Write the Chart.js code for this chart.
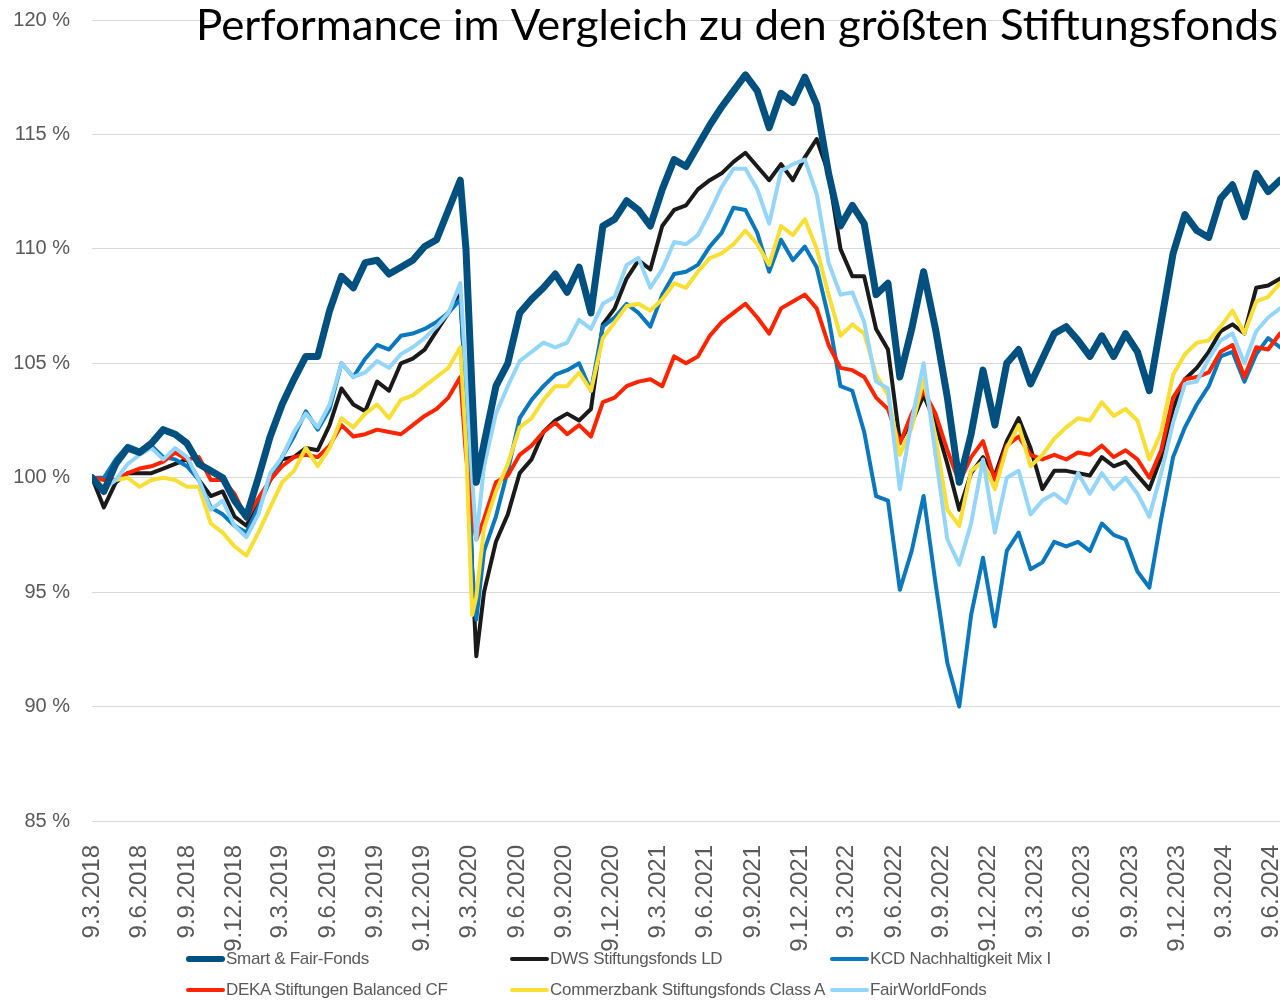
<!DOCTYPE html>
<html>
<head>
<meta charset="utf-8">
<script src="https://cdn.jsdelivr.net/npm/chart.js@4.4.1/dist/chart.umd.min.js"></script>
<style>
  body { margin: 0; background: #fff; }
  #wrap { position: relative; width: 1280px; height: 1000px; }
  #legend { position: absolute; left: 0; top: 0; width: 1280px; height: 1000px; pointer-events: none;
            font-family: "Liberation Sans", Arial, sans-serif; font-size: 17px; color: #595959; letter-spacing: -0.3px; }
  .item { position: absolute; display: flex; align-items: center; white-space: nowrap; }
  .swatch { width: 39px; margin-right: 1px; border-radius: 3px; }
</style>
</head>
<body>
<div id="wrap">
  <canvas id="perfChart" width="1280" height="1000"></canvas>
  <div id="legend"></div>
</div>
<script>
const chartTitle = 'Performance im Vergleich zu den größten Stiftungsfonds';

const tickLabels = ['9.3.2018', '9.6.2018', '9.9.2018', '9.12.2018', '9.3.2019', '9.6.2019', '9.9.2019', '9.12.2019',
  '9.3.2020', '9.6.2020', '9.9.2020', '9.12.2020', '9.3.2021', '9.6.2021', '9.9.2021', '9.12.2021',
  '9.3.2022', '9.6.2022', '9.9.2022', '9.12.2022', '9.3.2023', '9.6.2023', '9.9.2023', '9.12.2023',
  '9.3.2024', '9.6.2024'];

// sample dates, in days after 9.3.2018
const days = [0, 23, 46, 69, 92, 115, 138, 161, 184, 207, 230, 253, 276, 299, 322, 345, 368, 391, 414, 437,
  460, 483, 506, 529, 552, 575, 598, 621, 644, 667, 690, 713, 724, 736, 744, 759, 782, 805, 828, 851,
  874, 897, 920, 943, 966, 989, 1012, 1035, 1058, 1081, 1104, 1127, 1150, 1173, 1196, 1219, 1242, 1265,
  1288, 1311, 1334, 1357, 1380, 1403, 1426, 1449, 1472, 1495, 1518, 1541, 1564, 1587, 1610, 1633, 1656,
  1679, 1702, 1725, 1748, 1771, 1794, 1817, 1840, 1863, 1886, 1909, 1932, 1955, 1978, 2001, 2024, 2047,
  2070, 2093, 2116, 2139, 2162, 2185, 2208, 2231, 2254, 2277, 2300];

const smartFair = [100.0, 99.4, 100.6, 101.3, 101.1, 101.5, 102.1, 101.9, 101.5, 100.6, 100.3, 100.0, 99.0, 98.3, 100.0, 101.8, 103.2, 104.3,
  105.3, 105.3, 107.3, 108.8, 108.3, 109.4, 109.5, 108.9, 109.2, 109.5, 110.1, 110.4, 111.7, 113.0,
  110.0, 103.7, 99.8,
  101.5, 104.0, 105.0, 107.2, 107.8, 108.3, 108.9, 108.1, 109.2, 107.2, 111.0, 111.3, 112.1, 111.7, 111.0, 112.6, 113.9, 113.6, 114.5,
  115.4, 116.2, 116.9, 117.6, 116.9, 115.3, 116.8, 116.4, 117.5, 116.3, 113.3, 111.0, 111.9, 111.1, 108.0, 108.5,
  104.4, 106.5, 109.0, 106.5, 103.5, 99.8, 101.9, 104.7, 102.3, 105.0, 105.6, 104.1, 105.2, 106.3, 106.6, 106.0, 105.3,
  106.2, 105.3, 106.3, 105.5, 103.8, 106.8, 109.8, 111.5, 110.8, 110.5, 112.2, 112.8, 111.4, 113.3, 112.5, 113.0];

const dws = [100.0, 98.7, 99.8, 100.2, 100.2, 100.2, 100.4, 100.6, 100.8, 99.9, 99.2, 99.4, 98.3, 97.9, 98.9, 99.9, 100.8, 100.9,
  101.3, 101.2, 102.3, 103.9, 103.2, 102.9, 104.2, 103.8, 105.0, 105.2, 105.6, 106.4, 107.2, 108.0,
  103.5, 96.0, 92.2,
  95.0, 97.2, 98.4, 100.2, 100.8, 102.0, 102.5, 102.8, 102.5, 103.0, 106.7, 107.4, 108.7, 109.5, 109.1, 111.0, 111.7, 111.9, 112.6,
  113.0, 113.3, 113.8, 114.2, 113.6, 113.0, 113.7, 113.0, 114.0, 114.8, 113.3, 110.0, 108.8, 108.8, 106.5, 105.6,
  101.6, 102.4, 103.6, 102.4, 100.6, 98.6, 100.2, 100.9, 100.1, 101.6, 102.6, 101.3, 99.5, 100.3, 100.3, 100.2, 100.1,
  100.9, 100.5, 100.7, 100.1, 99.5, 100.9, 103.0, 104.3, 104.8, 105.5, 106.4, 106.7, 106.3, 108.3, 108.4, 108.7];

const kcd = [100.0, 100.0, 100.8, 101.4, 101.2, 101.4, 100.9, 100.8, 100.5, 99.9, 98.7, 98.4, 97.9, 97.6, 98.7, 99.9, 100.9, 101.8,
  102.9, 102.1, 103.0, 105.0, 104.4, 105.2, 105.8, 105.6, 106.2, 106.3, 106.5, 106.8, 107.2, 107.8,
  104.0, 96.0, 93.8,
  96.8, 98.3, 100.3, 102.6, 103.4, 104.0, 104.5, 104.7, 105.0, 103.8, 106.6, 107.0, 107.6, 107.2, 106.6, 108.0, 108.9, 109.0, 109.3,
  110.1, 110.7, 111.8, 111.7, 110.7, 109.0, 110.4, 109.5, 110.1, 109.2, 107.0, 104.0, 103.8, 102.0, 99.2, 99.0,
  95.1, 96.8, 99.2, 95.4, 91.9, 90.0, 94.0, 96.5, 93.5, 96.8, 97.6, 96.0, 96.3, 97.2, 97.0, 97.2, 96.8,
  98.0, 97.5, 97.3, 95.9, 95.2, 98.2, 100.9, 102.2, 103.2, 104.0, 105.3, 105.5, 104.2, 105.4, 106.1, 105.7];

const deka = [100.0, 99.9, 99.9, 100.2, 100.4, 100.5, 100.7, 101.1, 100.8, 100.9, 99.9, 99.9, 99.3, 98.2, 99.1, 99.9, 100.5, 100.9,
  101.0, 100.9, 101.4, 102.3, 101.8, 101.9, 102.1, 102.0, 101.9, 102.3, 102.7, 103.0, 103.5, 104.4,
  101.0, 98.5, 97.3,
  98.2, 99.8, 100.1, 101.0, 101.4, 102.0, 102.4, 101.9, 102.3, 101.8, 103.3, 103.5, 104.0, 104.2, 104.3, 104.0, 105.3, 105.0, 105.3,
  106.2, 106.8, 107.2, 107.6, 107.0, 106.3, 107.4, 107.7, 108.0, 107.4, 105.8, 104.8, 104.7, 104.4, 103.5, 103.0,
  101.5, 102.8, 103.8, 102.8, 101.2, 99.8, 100.9, 101.6, 99.9, 101.4, 101.8, 101.0, 100.8, 101.0, 100.8, 101.1, 101.0,
  101.4, 100.9, 101.2, 100.8, 100.0, 101.2, 103.5, 104.3, 104.4, 104.6, 105.5, 105.8, 104.4, 105.7, 105.6, 106.3];

const commerzbank = [100.0, 99.6, 99.9, 100.0, 99.6, 99.9, 100.0, 99.9, 99.6, 99.6, 98.0, 97.6, 97.0, 96.6, 97.6, 98.7, 99.8, 100.3,
  101.3, 100.5, 101.3, 102.6, 102.2, 102.8, 103.2, 102.6, 103.4, 103.6, 104.0, 104.4, 104.8, 105.7,
  101.5, 94.0, 94.8,
  97.8, 99.4, 100.6, 102.2, 102.6, 103.4, 104.0, 104.0, 104.6, 103.8, 106.1, 106.8, 107.5, 107.6, 107.3, 107.8, 108.5, 108.3, 109.0,
  109.6, 109.8, 110.2, 110.8, 110.2, 109.3, 111.0, 110.6, 111.3, 110.0, 108.0, 106.2, 106.7, 106.3, 104.5, 103.6,
  101.0, 102.2, 104.3, 101.8, 98.6, 97.9, 100.3, 100.7, 99.5, 101.3, 102.3, 100.5, 101.0, 101.7, 102.2, 102.6, 102.5,
  103.3, 102.7, 103.0, 102.5, 100.8, 102.0, 104.5, 105.4, 105.9, 106.0, 106.6, 107.3, 106.3, 107.7, 107.9, 108.5];

const fairWorld = [100.0, 99.5, 99.9, 100.6, 101.0, 101.3, 100.8, 101.3, 100.9, 99.9, 98.6, 99.0, 97.9, 97.4, 98.4, 100.2, 100.9, 102.0,
  102.8, 102.2, 103.2, 105.0, 104.4, 104.6, 105.1, 104.8, 105.4, 105.7, 106.1, 106.6, 107.2, 108.5,
  104.5, 100.0, 97.3,
  100.5, 102.8, 104.0, 105.1, 105.5, 105.9, 105.7, 105.9, 106.9, 106.5, 107.6, 107.9, 109.3, 109.6, 108.3, 109.1, 110.3, 110.2, 110.6,
  111.6, 112.7, 113.5, 113.5, 112.6, 111.1, 113.4, 113.7, 113.9, 112.4, 109.4, 108.0, 108.1, 106.8, 104.2, 103.9,
  99.5, 102.5, 105.0, 101.0, 97.3, 96.2, 98.0, 100.8, 97.6, 100.0, 100.3, 98.4, 99.0, 99.3, 98.9, 100.2, 99.3,
  100.2, 99.5, 100.0, 99.3, 98.3, 100.2, 102.4, 104.1, 104.2, 105.2, 106.0, 106.3, 105.0, 106.4, 107.0, 107.4];

const seriesNames = ['Smart & Fair-Fonds', 'DWS Stiftungsfonds LD', 'KCD Nachhaltigkeit Mix I',
  'DEKA Stiftungen Balanced CF', 'Commerzbank Stiftungsfonds Class A', 'FairWorldFonds'];
const seriesValues = [smartFair, dws, kcd, deka, commerzbank, fairWorld];
const seriesColors = ['#01507f', '#1a1a1a', '#0a78be', '#ff2400', '#f9de33', '#94d6fa'];
const seriesWidths = [7, 4, 4, 4, 4, 4];
const drawOrder = [0, 5, 4, 3, 2, 1]; // lower = drawn on top

const startUtc = Date.UTC(2018, 2, 9);
const tickDays = tickLabels.map(l => {
  const [d, m, y] = l.split('.').map(Number);
  return Math.round((Date.UTC(y, m - 1, d) - startUtc) / 86400000);
});

const datasets = seriesNames.map((name, s) => ({
  label: name,
  data: seriesValues[s].map((v, k) => ({ x: days[k], y: v })),
  borderColor: seriesColors[s],
  backgroundColor: seriesColors[s],
  borderWidth: seriesWidths[s],
  pointRadius: 0,
  tension: 0,
  borderJoinStyle: 'round',
  borderCapStyle: 'round',
  order: drawOrder[s]
}));

// title sits inside the plot, top right, stretched to the reference width
const titlePlugin = {
  id: 'cornerTitle',
  afterDraw(chart) {
    const ctx = chart.ctx;
    ctx.save();
    ctx.font = '42px Lato, "Open Sans", sans-serif';
    ctx.fillStyle = '#000';
    ctx.textAlign = 'right';
    ctx.textBaseline = 'alphabetic';
    const w = ctx.measureText(chartTitle).width;
    ctx.translate(1278, 40);
    ctx.scale(1082 / w, 1);
    ctx.fillText(chartTitle, 0, 0);
    ctx.restore();
  }
};

const ctx = document.getElementById('perfChart').getContext('2d');
new Chart(ctx, {
  type: 'line',
  data: { datasets },
  plugins: [titlePlugin],
  options: {
    responsive: false,
    animation: false,
    devicePixelRatio: 1,
    layout: { padding: { left: 10, top: 20, right: 0, bottom: 0 } },
    plugins: { legend: { display: false }, tooltip: { enabled: false }, title: { display: false } },
    scales: {
      x: {
        type: 'linear',
        min: 0,
        max: 2300,
        afterBuildTicks: scale => { scale.ticks = tickDays.map(v => ({ value: v })); },
        afterFit: scale => {
          scale.height = 179;
          scale.paddingLeft = 0;
          scale.paddingRight = 0;
        },
        grid: { display: false },
        border: { display: false },
        ticks: {
          autoSkip: false,
          minRotation: 90,
          maxRotation: 90,
          padding: 16,
          color: '#595959',
          font: { family: '"Liberation Sans", Arial, sans-serif', size: 24 },
          callback: (v, i) => tickLabels[i]
        }
      },
      y: {
        min: 85,
        max: 120,
        afterFit: scale => {
          scale.width = 82;
          scale.paddingTop = 0;
          scale.paddingBottom = 0;
        },
        grid: { color: '#d9d9d9', lineWidth: 1, drawTicks: false },
        border: { display: false },
        ticks: {
          stepSize: 5,
          padding: 22,
          color: '#595959',
          font: { family: '"Liberation Sans", Arial, sans-serif', size: 20 },
          callback: v => v + ' %'
        }
      }
    }
  }
});

// legend in three columns, two rows
const legendCols = [186, 510, 830];
const legendRows = [959, 990];
const legendEl = document.getElementById('legend');
seriesNames.forEach((name, s) => {
  const item = document.createElement('div');
  item.className = 'item';
  item.style.left = legendCols[s % 3] + 'px';
  item.style.top = (legendRows[Math.floor(s / 3)] - 11) + 'px';
  item.style.height = '22px';
  const sw = document.createElement('span');
  sw.className = 'swatch';
  sw.style.height = (s === 0 ? 6 : 4) + 'px';
  sw.style.background = seriesColors[s];
  const tx = document.createElement('span');
  tx.textContent = name;
  item.appendChild(sw);
  item.appendChild(tx);
  legendEl.appendChild(item);
});
</script>
</body>
</html>
